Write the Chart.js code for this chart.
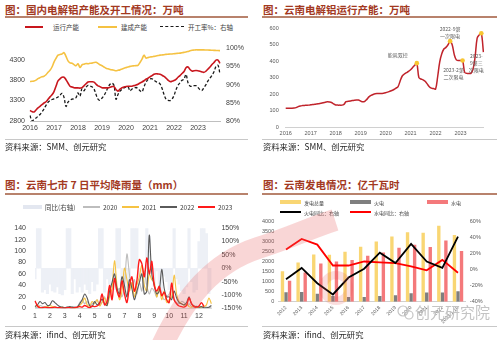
<!DOCTYPE html>
<html>
<head>
<meta charset="utf-8">
<script src="https://cdn.jsdelivr.net/npm/chart.js@4.4.0/dist/chart.umd.min.js"></script>
<style>
  body { margin: 0; background: #fff; }
  #page { position: relative; width: 500px; height: 340px; overflow: hidden; font-family: 'Noto Sans CJK SC', sans-serif; }
  .title { position: absolute; font-size: 10.5px; font-weight: 700; color: #a3391f; white-space: nowrap; line-height: 12px; }
  .rule { position: absolute; height: 1.5px; background: #b8826c; }
  .src-rule { position: absolute; height: 1px; background: #c8c8c8; }
  .src { position: absolute; font-size: 8.3px; color: #262626; white-space: nowrap; line-height: 10px; }
  .lg { position: absolute; color: #404040; white-space: nowrap; }
  .sw { position: absolute; }
  canvas { position: absolute; }
  #wm { position: absolute; left: 0; top: 0; pointer-events: none; }
  #wx { position: absolute; left: 415px; top: 301px; color: #c4c4c4; font-size: 15px; white-space: nowrap; }
</style>
</head>
<body>
<div id="page">
  <div class="title" style="left:5px; top:4px;">图：国内电解铝产能及开工情况：万吨</div>
  <div class="rule" style="left:5px; top:16px; width:243px;"></div>
  <div class="title" style="left:263px; top:4px;">图：云南电解铝运行产能：万吨</div>
  <div class="rule" style="left:262px; top:16px; width:235px;"></div>

  <div class="title" style="left:5px; top:179px;">图：云南七市 7 日平均降雨量（mm）</div>
  <div class="rule" style="left:5px; top:193px; width:243px;"></div>
  <div class="title" style="left:263px; top:179px;">图：云南发电情况：亿千瓦时</div>
  <div class="rule" style="left:262px; top:193px; width:235px;"></div>

  <canvas id="capChart" width="250" height="96" style="left:0; top:38px;"></canvas>
  <canvas id="ynChart" width="245" height="122" style="left:255px; top:18px;"></canvas>
  <canvas id="rainChart" width="250" height="110" style="left:0; top:214px;"></canvas>
  <canvas id="powerChart" width="245" height="113" style="left:255px; top:214px;"></canvas>

  <div class="src-rule" style="left:5px; top:139px; width:243px;"></div>
  <div class="src" style="left:5px; top:141px;">资料来源：SMM、创元研究</div>
  <div class="src-rule" style="left:262px; top:139px; width:235px;"></div>
  <div class="src" style="left:263px; top:141px;">资料来源：SMM、创元研究</div>
  <div class="src-rule" style="left:5px; top:326px; width:243px;"></div>
  <div class="src" style="left:5px; top:329px;">资料来源：ifind、创元研究</div>
  <div class="src-rule" style="left:262px; top:326px; width:235px;"></div>
  <div class="src" style="left:263px; top:329px;">资料来源：ifind、创元研究</div>

  <div id="legends"></div>

  <svg id="wm" width="500" height="340">
    <path d="M 160 350 C 185 295, 215 262, 258 248 C 290 238, 310 228, 335 220" stroke="#e85a5a" stroke-opacity="0.25" stroke-width="22" fill="none"/>
    <circle cx="336" cy="288" r="13" stroke="#e85a5a" stroke-opacity="0.2" stroke-width="8" fill="none"/>
    <circle cx="403" cy="311" r="5" stroke="#c4c4c4" stroke-width="1.2" fill="none"/>
    <circle cx="409" cy="315" r="4" stroke="#c4c4c4" stroke-width="1.2" fill="none"/>
  </svg>
  <div id="wx">创元研究院</div>
</div>

<script>
// ---- 国内电解铝：月度 2016-01 ~ 2023-12 ----
const cnYears = [2016, 2017, 2018, 2019, 2020, 2021, 2022, 2023];
const cnRunning = [
  3060, 3030, 3020, 3070, 3120, 3160, 3200, 3240, 3270, 3330, 3390, 3440,
  3520, 3650, 3780, 3830, 3870, 3870, 3810, 3730, 3650, 3630, 3615, 3610,
  3610, 3605, 3615, 3660, 3710, 3755, 3760, 3760, 3750, 3700, 3660, 3640,
  3615, 3610, 3610, 3610, 3625, 3640, 3640, 3570, 3530, 3580, 3615, 3630,
  3645, 3650, 3650, 3650, 3665, 3680, 3700, 3730, 3755, 3785, 3820, 3845,
  3880, 3910, 3945, 3955, 3950, 3945, 3920, 3890, 3850, 3800, 3765, 3770,
  3790, 3820, 3870, 3910, 3960, 4010, 4100, 4120, 4060, 4020, 4030, 4035,
  4030, 4015, 4000, 3990, 4020, 4070, 4120, 4180, 4230, 4290, 4290, 4210
];
const cnBuilt = [
  3765, 3770, 3780, 3800, 3835, 3860, 3880, 3895, 3930, 3990, 4040, 4120,
  4240, 4330, 4410, 4425, 4440, 4470, 4380, 4270, 4220, 4210, 4180, 4150,
  4200, 4110, 4170, 4190, 4205, 4200, 4210, 4215, 4230, 4235, 4210, 4175,
  4150, 4120, 4090, 4075, 4060, 4050, 4040, 4030, 4040, 4050, 4070, 4090,
  4105, 4120, 4135, 4145, 4150, 4155, 4160, 4230, 4310, 4410, 4340, 4350,
  4365, 4370, 4380, 4390, 4400, 4410, 4415, 4420, 4428, 4432, 4438, 4440,
  4445, 4450, 4455, 4460, 4470, 4478, 4485, 4500, 4518, 4530, 4535, 4540,
  4540, 4540, 4540, 4538, 4535, 4535, 4532, 4530, 4528, 4525, 4522, 4520
];
const cnRate = [
  81.5, 80.0, 80.4, 80.8, 81.3, 81.8, 82.5, 83.3, 84.3, 85.1, 85.6, 85.9,
  86.1, 86.3, 86.6, 87.1, 87.6, 86.5, 84.0, 85.2, 85.7, 86.0, 86.1, 86.4,
  87.7, 86.8, 88.9, 88.3, 89.3, 89.8, 89.6, 89.4, 88.8, 87.3, 86.0, 85.7,
  86.3, 87.0, 88.0, 89.2, 90.1, 90.4, 89.8, 86.0, 87.3, 88.2, 88.7, 89.1,
  89.3, 89.4, 88.3, 88.8, 89.0, 89.2, 88.9, 88.3, 88.0, 89.4, 90.6, 91.4,
  91.6, 91.6, 91.2, 90.8, 90.6, 90.2, 89.0, 87.3, 86.0, 85.7, 85.6, 86.0,
  87.0, 88.6, 89.8, 90.5, 91.2, 91.5, 92.8, 90.5, 89.6, 89.5, 89.7, 89.7,
  89.2, 88.6, 88.4, 89.2, 90.0, 91.0, 91.8, 92.5, 93.5, 95.0, 95.3, 92.9
];
const cnLeftTicks = [2800, 3300, 3800, 4300];
const cnRightTicks = [80, 85, 90, 95, 100];

// ---- 云南电解铝运行产能：月度 2016-01 ~ 2023-12 ----
const ynCapacity = [
  114, 114, 114, 114, 115, 118, 124, 128, 130, 131, 132, 133,
  135, 137, 138, 140, 142, 144, 147, 151, 153, 152, 149, 140,
  134, 133, 133, 133, 138, 154, 156, 158, 161, 163, 164, 164,
  158, 153, 156, 168, 183, 192, 198, 202, 203, 203, 204, 205,
  208, 212, 217, 222, 228, 236, 246, 280, 310, 322, 330, 338,
  348, 362, 375, 388, 300, 292, 287, 278, 262, 245, 236, 234,
  230, 304, 395, 445, 474, 484, 500, 522, 500, 440, 408, 404,
  404, 404, 332, 326, 325, 326, 350, 425, 540, 560, 570, 455
];
const ynTicks = [0, 100, 200, 300, 400, 500, 600];
const ynNotes = [
  { idx: 63, lines: ["能耗双控"] },
  { idx: 79, lines: ["2022-9第", "一次限电"] },
  { idx: 85, lines: ["2023-2第", "二次限电"] },
  { idx: 94, lines: ["2023-", "9第三", "次限电"] }
];

// ---- 云南七市 7 日平均降雨量：每月 6 个点 ----
const rainMonths = [1, 2, 3, 4, 5, 6, 7, 8, 9, 10, 11, 12];
const rain2020 = [
  1, 2, 5, 3, 2, 1,   1, 2, 3, 1, 2, 1,   1, 2, 1, 2, 3, 2,
  10, 15, 8, 12, 5, 8,   10, 15, 5, 12, 20, 8,   25, 40, 50, 30, 35, 20,
  40, 95, 60, 35, 50, 25,   45, 30, 65, 40, 25, 35,   30, 20, 40, 25, 15, 20,
  25, 35, 15, 10, 8, 12,   10, 5, 8, 3, 2, 4,   2, 1, 3, 2, 1, 2
];
const rain2021 = [
  3, 5, 2, 1, 2, 3,   5, 3, 2, 1, 1, 2,   1, 1, 2, 1, 0, 1,
  5, 10, 18, 6, 4, 12,   8, 15, 4, 10, 18, 5,   20, 35, 83, 40, 15, 30,
  70, 50, 30, 45, 20, 40,   55, 75, 40, 30, 60, 50,   45, 20, 35, 15, 30, 10,
  15, 20, 58, 25, 12, 8,   5, 8, 3, 2, 4, 2,   1, 2, 3, 6, 18, 8
];
const rain2022 = [
  3, 6, 12, 8, 10, 5,   6, 13, 10, 6, 3, 2,   1, 2, 3, 2, 1, 2,
  8, 15, 25, 18, 5, 3,   12, 6, 10, 16, 8, 5,   30, 45, 60, 35, 25, 55,
  40, 20, 50, 35, 15, 30,   45, 60, 25, 30, 128, 60,   40, 25, 30, 68, 35, 20,
  20, 15, 30, 18, 10, 8,   6, 10, 20, 8, 4, 3,   2, 3, 1, 1, 2, 5
];
const rain2023 = [
  13, 4, 1, 1, 2, 1,   1, 1, 2, 1, 1, 0,   0, 1, 1, 0, 1, 2,
  3, 2, 5, 3, 1, 4,   3, 4, 8, 25, 6, 12,   40, 15, 52, 30, 20, 48,
  25, 10, 38, 55, 30, 48,   85, 78, 55, 88, 60, 82,   40, 30, 38, 22, 28, 15,
  10, 44, 15, 8, 4, 3,   2, 5, 18, 8, 3, 2,   4, 10, 3, null, null, null
];
const rainYoy = [
  -40, 150, 150, -90, -80, -95,   -60, -85, -90, -70, -95, -100,   -80, 150, 150, -95, -40, -90,
  -70, -90, -60, -80, -95, -50,   -85, -60, 150, 150, -90, -40,   -60, -30, -80, 150, 150, -70,
  -40, -75, -60, 150, 150, 150,   -50, -30, -60, 150, 120, -20,   -70, -10, -60, -90, -30, -50,
  -80, -90, 150, -40, -60, -85,   -95, -70, 150, -50, -90, -80,   100, 150, 150, 130, -95, -80
];

// ---- 云南发电情况 ----
const powerYears = ["2012", "2013", "2014", "2015", "2016", "2017", "2018", "2019", "2020", "2021", "2022", "2023.1-10"];
const powerTotal = [1520, 1950, 2350, 2330, 2480, 2740, 3000, 3250, 3450, 3430, 3780, 3320];
const powerThermal = [470, 480, 390, 280, 230, 240, 280, 320, 420, 460, 460, 520];
const powerHydro = [1040, 1450, 1900, 2000, 2080, 2280, 2450, 2680, 2830, 2720, 3050, 2520];
const thermalYoy = [-12, 2, -17, -31, -10, 1, 21, 8, 32, 10, 2, 41];
const hydroYoy = [25, 38, 31, 5, 5, 10, 9, 8, 4, -1, 12, -4];

Chart.defaults.font.family = "'Liberation Sans', 'Noto Sans CJK SC', sans-serif";
Chart.defaults.color = "#404040";
Chart.defaults.animation = false;

const noGrid = { display: false, drawTicks: false };

function monthLabels(years) {
  const out = [];
  years.forEach(y => {
    for (let m = 1; m <= 12; m++) out.push(y + "-" + m);
  });
  return out;
}

// kind: line | dash | bar ; sw = swatch width, gap = text offset from swatch start
function addLegend(x, y, kind, color, text, fontSize, sw, gap) {
  const box = document.getElementById("legends");
  const mark = document.createElement("div");
  mark.className = "sw";
  if (kind === "bar") {
    mark.style.cssText = `left:${x}px; top:${y - 2}px; width:${sw}px; height:4px; background:${color};`;
  } else if (kind === "dash") {
    mark.style.cssText = `left:${x}px; top:${y - 1}px; width:${sw}px; height:0; border-top:1.6px dashed ${color};`;
  } else {
    mark.style.cssText = `left:${x}px; top:${y - 1}px; width:${sw}px; height:1.8px; background:${color};`;
  }
  box.appendChild(mark);
  const t = document.createElement("div");
  t.className = "lg";
  t.style.cssText = `left:${x + gap}px; top:${y - fontSize / 2 - 1}px; font-size:${fontSize}px; line-height:${fontSize + 2}px;`;
  t.textContent = text;
  box.appendChild(t);
}

function fixedWidth(w) { return s => { s.width = w; }; }
function fixedHeight(h) { return s => { s.height = h; }; }

function renderCapacityChart() {
  const labels = monthLabels(cnYears);
  new Chart(document.getElementById("capChart"), {
    type: "line",
    data: {
      labels: labels,
      datasets: [
        { label: "运行产能", data: cnRunning, borderColor: "#c8161d", borderWidth: 1.6, pointRadius: 0, tension: 0.35, yAxisID: "y" },
        { label: "开工率%：右轴", data: cnRate, borderColor: "#1a1a1a", borderWidth: 1.3, borderDash: [3, 2], pointRadius: 0, tension: 0.35, yAxisID: "y1" },
        { label: "建成产能", data: cnBuilt, borderColor: "#f5c243", borderWidth: 1.6, pointRadius: 0, tension: 0.35, yAxisID: "y" }
      ]
    },
    options: {
      responsive: false,
      layout: { padding: { top: 4, right: 0, left: 0, bottom: 0 } },
      plugins: { legend: { display: false }, tooltip: { enabled: false } },
      scales: {
        x: {
          grid: noGrid,
          border: { color: "#bfbfbf" },
          ticks: {
            autoSkip: false, maxRotation: 0, minRotation: 0, padding: 3,
            font: { size: 7 },
            callback: (v, i) => (i % 12 === 0 ? labels[i].split("-")[0] : "")
          },
          afterFit: fixedHeight(13)
        },
        y: {
          position: "left", min: 2800, max: 4580,
          grid: noGrid, border: { display: false },
          ticks: { font: { size: 7 }, padding: 5, callback: v => String(v) },
          afterBuildTicks: s => { s.ticks = cnLeftTicks.map(v => ({ value: v })); },
          afterFit: fixedWidth(30)
        },
        y1: {
          position: "right", min: 80, max: 100,
          grid: noGrid, border: { display: false },
          ticks: { font: { size: 7 }, padding: 6, callback: v => v + "%" },
          afterBuildTicks: s => { s.ticks = cnRightTicks.map(v => ({ value: v })); },
          afterFit: fixedWidth(30)
        }
      }
    }
  });

  addLegend(25, 27, "line", "#c8161d", "运行产能", 6.5, 18, 28);
  addLegend(98, 27, "line", "#f5c243", "建成产能", 6.5, 19, 23);
  addLegend(160, 27, "dash", "#1a1a1a", "开工率%：右轴", 6.5, 24, 28);
}

const ynNotePlugin = {
  id: "ynNotes",
  afterDatasetsDraw(chart) {
    const ctx = chart.ctx;
    const xs = chart.scales.x, ys = chart.scales.y;
    const offsets = [[-19, -8], [0, -12], [-9, 10], [-5, 23]];
    ctx.save();
    ctx.font = "5px 'Noto Sans CJK SC'";
    ctx.fillStyle = "#595959";
    ctx.textAlign = "center";
    ctx.textBaseline = "middle";
    ynNotes.forEach((n, k) => {
      const px = xs.getPixelForValue(n.idx);
      const py = ys.getPixelForValue(ynCapacity[n.idx]);
      n.lines.forEach((line, j) => {
        ctx.fillText(line, px + offsets[k][0], py + offsets[k][1] + j * 7);
      });
    });
    ctx.restore();
  }
};

function renderYunnanChart() {
  const labels = monthLabels(cnYears);
  const marks = ynNotes.map(n => n.idx);
  new Chart(document.getElementById("ynChart"), {
    type: "line",
    data: {
      labels: labels,
      datasets: [{
        label: "云南运行产能",
        data: ynCapacity,
        borderColor: "#c0232b",
        borderWidth: 1.5,
        tension: 0.35,
        pointRadius: ctx => (marks.includes(ctx.dataIndex) ? 2.3 : 0),
        pointBackgroundColor: "#f8c630",
        pointBorderWidth: 0
      }]
    },
    options: {
      responsive: false,
      layout: { padding: { top: 7, right: 16.6, left: 0, bottom: 0 } },
      plugins: { legend: { display: false }, tooltip: { enabled: false } },
      scales: {
        x: {
          grid: noGrid,
          border: { color: "#d0d0d0" },
          ticks: {
            autoSkip: false, maxRotation: 0, minRotation: 0, padding: 3,
            font: { size: 5.5 }, color: "#595959",
            callback: (v, i) => (i % 12 === 0 ? labels[i].split("-")[0] : "")
          },
          afterFit: fixedHeight(13)
        },
        y: {
          min: 0, max: 600,
          grid: noGrid, border: { display: false },
          ticks: { font: { size: 5.5 }, color: "#595959", padding: 7, callback: v => String(v) },
          afterBuildTicks: s => { s.ticks = ynTicks.map(v => ({ value: v })); },
          afterFit: fixedWidth(30.7)
        }
      }
    },
    plugins: [ynNotePlugin]
  });
}

function renderRainChart() {
  const labels = [];
  rainMonths.forEach(m => { for (let k = 0; k < 6; k++) labels.push(m + "-" + k); });
  new Chart(document.getElementById("rainChart"), {
    data: {
      labels: labels,
      datasets: [
        { type: "line", label: "2023", data: rain2023, borderColor: "#ff1a1a", borderWidth: 1.4, pointRadius: 0, tension: 0.3, yAxisID: "y", order: 0 },
        { type: "line", label: "2022", data: rain2022, borderColor: "#5a5a5a", borderWidth: 1.1, pointRadius: 0, tension: 0.3, yAxisID: "y", order: 1 },
        { type: "line", label: "2021", data: rain2021, borderColor: "#f6c343", borderWidth: 1.1, pointRadius: 0, tension: 0.3, yAxisID: "y", order: 2 },
        { type: "line", label: "2020", data: rain2020, borderColor: "#bdbdbd", borderWidth: 1.1, pointRadius: 0, tension: 0.3, yAxisID: "y", order: 3 },
        { type: "bar", label: "同比(右轴)", data: rainYoy, backgroundColor: "#edf0f6", barPercentage: 1, categoryPercentage: 1, yAxisID: "y1", order: 4 }
      ]
    },
    options: {
      responsive: false,
      layout: { padding: { top: 10.3, right: 0, left: 0, bottom: 0 } },
      plugins: { legend: { display: false }, tooltip: { enabled: false } },
      scales: {
        x: {
          offset: false,
          grid: noGrid,
          border: { color: "#d9d9d9" },
          ticks: {
            autoSkip: false, maxRotation: 0, minRotation: 0, padding: 4,
            font: { size: 7 },
            callback: (v, i) => (i % 6 === 0 ? String(rainMonths[i / 6]) : "")
          },
          afterFit: fixedHeight(15.7)
        },
        y: {
          position: "left", min: 0, max: 140,
          grid: noGrid, border: { display: false },
          ticks: { stepSize: 20, font: { size: 7 }, padding: 9 },
          afterFit: fixedWidth(35)
        },
        y1: {
          position: "right", min: -150, max: 150,
          grid: noGrid, border: { display: false },
          ticks: { stepSize: 50, font: { size: 7 }, padding: 10, callback: v => v + "%" },
          afterFit: fixedWidth(38.6)
        }
      }
    }
  });

  addLegend(23, 207, "bar", "#e3e7f0", "同比(右轴)", 6.5, 19, 22);
  addLegend(83, 207, "line", "#bdbdbd", "2020", 6.5, 17, 20);
  addLegend(122, 207, "line", "#f6c343", "2021", 6.5, 17, 20);
  addLegend(160, 207, "line", "#5a5a5a", "2022", 6.5, 17, 20);
  addLegend(198, 207, "line", "#ff1a1a", "2023", 6.5, 17, 20);
}

function renderPowerChart() {
  new Chart(document.getElementById("powerChart"), {
    data: {
      labels: powerYears,
      datasets: [
        { type: "line", label: "火电同比：右轴", data: thermalYoy, borderColor: "#000", borderWidth: 1.8, pointRadius: 0, tension: 0, yAxisID: "y1", order: 0 },
        { type: "line", label: "水电同比：右轴", data: hydroYoy, borderColor: "#ff0000", borderWidth: 1.8, pointRadius: 0, tension: 0, yAxisID: "y1", order: 1 },
        { type: "bar", label: "发电总量", data: powerTotal, backgroundColor: "#f9d673", barPercentage: 0.95, categoryPercentage: 0.68, yAxisID: "y", order: 2 },
        { type: "bar", label: "火电", data: powerThermal, backgroundColor: "#7f7f7f", barPercentage: 0.95, categoryPercentage: 0.68, yAxisID: "y", order: 2 },
        { type: "bar", label: "水电", data: powerHydro, backgroundColor: "#f4797b", barPercentage: 0.95, categoryPercentage: 0.68, yAxisID: "y", order: 2 }
      ]
    },
    options: {
      responsive: false,
      layout: { padding: { top: 6, right: 0, left: 0, bottom: 0 } },
      plugins: { legend: { display: false }, tooltip: { enabled: false } },
      scales: {
        x: {
          grid: noGrid,
          border: { color: "#d0d0d0" },
          ticks: { autoSkip: false, maxRotation: 45, minRotation: 45, padding: 3, font: { size: 5 }, color: "#595959" },
          afterFit: fixedHeight(25.3)
        },
        y: {
          position: "left", min: 0, max: 4000,
          grid: noGrid, border: { display: false },
          ticks: { stepSize: 500, font: { size: 5.5 }, color: "#595959", padding: 4, callback: v => String(v) },
          afterFit: fixedWidth(23.2)
        },
        y1: {
          position: "right", min: -40, max: 60,
          grid: noGrid, border: { display: false },
          ticks: { stepSize: 20, font: { size: 5.5 }, color: "#595959", padding: 4, callback: v => v + "%" },
          afterFit: fixedWidth(34.2)
        }
      }
    }
  });

  addLegend(280, 202, "bar", "#f9d673", "发电总量", 5, 21, 24);
  addLegend(350, 202, "bar", "#7f7f7f", "火电", 5, 21, 24);
  addLegend(427, 202, "bar", "#f4797b", "水电", 5, 21, 24);
  addLegend(280, 212, "line", "#000", "火电同比：右轴", 5, 21, 24);
  addLegend(350, 212, "line", "#ff0000", "水电同比：右轴", 5, 21, 24);
}

window.onload = function () {
  renderCapacityChart();
  renderYunnanChart();
  renderRainChart();
  renderPowerChart();
};
</script>
</body>
</html>
